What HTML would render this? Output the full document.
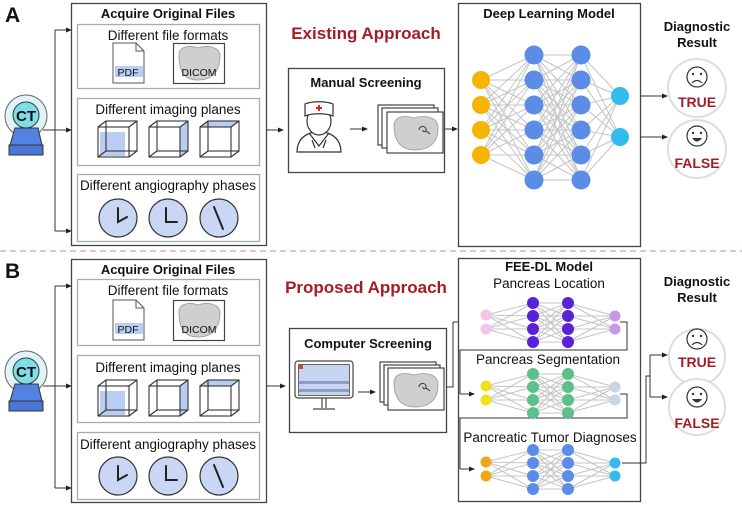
<!DOCTYPE html>
<html><head><meta charset="utf-8"><style>
html,body{margin:0;padding:0;background:#fff}
svg{display:block}
text{font-family:"Liberation Sans",Arial,sans-serif;fill:#111}
.b{font-weight:bold}
</style></head><body>
<svg id="s" width="742" height="506" viewBox="0 0 742 506" xmlns="http://www.w3.org/2000/svg">
<defs>
<marker id="ar" markerWidth="6" markerHeight="6" refX="5" refY="3" orient="auto" markerUnits="userSpaceOnUse"><path d="M0,0.5 L6,3 L0,5.5z" fill="#222"/></marker>
</defs>
<rect width="742" height="506" fill="#fff"/>
<line x1="0" y1="251" x2="742" y2="251" stroke="#d9a0a8" stroke-width="1.3" stroke-dasharray="6,4"/>

<!-- LEFT PANEL A -->
<g id="leftA">
<text x="5" y="22" class="b" font-size="21">A</text>
<!-- CT -->
<circle cx="26" cy="116" r="21" fill="#dff4f6" stroke="#666" stroke-width="1"/>
<circle cx="26" cy="115" r="13" fill="#7fdde8" stroke="#333" stroke-width="1"/>
<text x="26" y="121" class="b" font-size="15" text-anchor="middle">CT</text>
<path d="M15,128 H38 L42,145 H10 Z" fill="#5581e0" stroke="#333" stroke-width="1"/>
<rect x="9" y="145" width="34" height="10" fill="#4a76d8" stroke="#333" stroke-width="1"/>
<!-- connectors -->
<path d="M43,130 H55 M55,30 V231" stroke="#333" fill="none"/>
<line x1="55" y1="30" x2="71" y2="30" stroke="#333" marker-end="url(#ar)"/>
<line x1="55" y1="130" x2="71" y2="130" stroke="#333" marker-end="url(#ar)"/>
<line x1="55" y1="231" x2="71" y2="231" stroke="#333" marker-end="url(#ar)"/>
<!-- acquire box -->
<rect x="71.5" y="3.5" width="195" height="242" fill="#fff" stroke="#444" stroke-width="1.3"/>
<text x="168" y="18" class="b" font-size="13" text-anchor="middle">Acquire Original Files</text>
<rect x="77.5" y="24.5" width="182" height="64" fill="#fff" stroke="#aaa" stroke-width="1.3"/>
<text x="168" y="40" font-size="13.5" text-anchor="middle">Different file formats</text>
<path d="M113,43 H136 L144,51 V83 H113 Z" fill="#fff" stroke="#555"/>
<path d="M136,43 V51 H144" fill="none" stroke="#555"/>
<rect x="115" y="66" width="28" height="11" fill="#b9cdf2"/>
<text x="128" y="76" font-size="10.5" text-anchor="middle" fill="#223">PDF</text>
<rect x="173.5" y="43.5" width="51" height="40" fill="#fff" stroke="#444" stroke-width="1.2"/>
<path d="M179,56 C178,46 190,45 198,48 C206,45 220,46 220,56 C220,68 215,80 198,80 C182,80 179,68 179,56 Z" fill="#cfcfcf" stroke="#999" stroke-width="0.8"/>
<text x="199" y="76" font-size="10.5" text-anchor="middle" fill="#222">DICOM</text>

<rect x="77.5" y="98.5" width="182" height="67" fill="#fff" stroke="#aaa" stroke-width="1.3"/>
<text x="168" y="114" font-size="13.5" text-anchor="middle">Different imaging planes</text>
<!-- cubes -->
<g fill="none" stroke="#333" stroke-width="1.1">
<rect x="100" y="132" width="25" height="24" fill="#b9cdf2" stroke="none"/>
<rect x="98" y="127" width="31" height="30"/><rect x="106" y="121" width="31" height="30"/>
<path d="M98,127 L106,121 M129,127 L137,121 M129,157 L137,151 M98,157 L106,151"/>
<path d="M180,127 L188,121 V151 L180,157 Z" fill="#b9cdf2" stroke="none"/>
<rect x="149" y="127" width="31" height="30"/><rect x="157" y="121" width="31" height="30"/>
<path d="M149,127 L157,121 M180,127 L188,121 M180,157 L188,151 M149,157 L157,151"/>
<path d="M200,127 L208,121 H239 L231,127 Z" fill="#b9cdf2" stroke="none"/>
<rect x="200" y="127" width="31" height="30"/><rect x="208" y="121" width="31" height="30"/>
<path d="M200,127 L208,121 M231,127 L239,121 M231,157 L239,151 M200,157 L208,151"/>
</g>
<rect x="77.5" y="174.5" width="182" height="67" fill="#fff" stroke="#aaa" stroke-width="1.3"/>
<text x="168" y="190" font-size="13.5" text-anchor="middle">Different angiography phases</text>
<g stroke="#333" stroke-width="1.2" fill="#c9d7f4">
<circle cx="118" cy="218" r="19"/><circle cx="168" cy="218" r="19"/><circle cx="219" cy="218" r="19"/>
</g>
<g stroke="#222" stroke-width="2" fill="none" stroke-linecap="round">
<path d="M118,208 V222 L127,217"/>
<path d="M166,208 V222 H177"/>
<path d="M214,207 L223,229"/>
</g>
<line x1="266" y1="130" x2="283" y2="130" stroke="#333" marker-end="url(#ar)"/>
</g>

<!-- LEFT PANEL B (copy shifted) -->
<g transform="translate(0,256)">
<rect x="0" y="0" width="30" height="28" fill="#fff"/>
<text x="5" y="22" class="b" font-size="21">B</text>
<circle cx="26" cy="116" r="21" fill="#dff4f6" stroke="#666" stroke-width="1"/>
<circle cx="26" cy="115" r="13" fill="#7fdde8" stroke="#333" stroke-width="1"/>
<text x="26" y="121" class="b" font-size="15" text-anchor="middle">CT</text>
<path d="M15,128 H38 L42,145 H10 Z" fill="#5581e0" stroke="#333" stroke-width="1"/>
<rect x="9" y="145" width="34" height="10" fill="#4a76d8" stroke="#333" stroke-width="1"/>
<path d="M43,130 H55 M55,30 V232" stroke="#333" fill="none"/>
<line x1="55" y1="30" x2="71" y2="30" stroke="#333" marker-end="url(#ar)"/>
<line x1="55" y1="130" x2="71" y2="130" stroke="#333" marker-end="url(#ar)"/>
<line x1="55" y1="232" x2="71" y2="232" stroke="#333" marker-end="url(#ar)"/>
<rect x="71.5" y="3.5" width="195" height="243" fill="#fff" stroke="#444" stroke-width="1.3"/>
<text x="168" y="18" class="b" font-size="13" text-anchor="middle">Acquire Original Files</text>
<rect x="77.5" y="23.5" width="182" height="66" fill="#fff" stroke="#aaa" stroke-width="1.3"/>
<text x="168" y="39" font-size="13.5" text-anchor="middle">Different file formats</text>
<path d="M113,44 H136 L144,52 V84 H113 Z" fill="#fff" stroke="#555"/>
<path d="M136,44 V52 H144" fill="none" stroke="#555"/>
<rect x="115" y="67" width="28" height="11" fill="#b9cdf2"/>
<text x="128" y="77" font-size="10.5" text-anchor="middle" fill="#223">PDF</text>
<rect x="173.5" y="44.5" width="51" height="40" fill="#fff" stroke="#444" stroke-width="1.2"/>
<path d="M179,57 C178,47 190,46 198,49 C206,46 220,47 220,57 C220,69 215,81 198,81 C182,81 179,69 179,57 Z" fill="#cfcfcf" stroke="#999" stroke-width="0.8"/>
<text x="199" y="77" font-size="10.5" text-anchor="middle" fill="#222">DICOM</text>
<rect x="77.5" y="99.5" width="182" height="67" fill="#fff" stroke="#aaa" stroke-width="1.3"/>
<text x="168" y="116" font-size="13.5" text-anchor="middle">Different imaging planes</text>
<g fill="none" stroke="#333" stroke-width="1.1" transform="translate(0,3)">
<rect x="100" y="132" width="25" height="24" fill="#b9cdf2" stroke="none"/>
<rect x="98" y="127" width="31" height="30"/><rect x="106" y="121" width="31" height="30"/>
<path d="M98,127 L106,121 M129,127 L137,121 M129,157 L137,151 M98,157 L106,151"/>
<path d="M180,127 L188,121 V151 L180,157 Z" fill="#b9cdf2" stroke="none"/>
<rect x="149" y="127" width="31" height="30"/><rect x="157" y="121" width="31" height="30"/>
<path d="M149,127 L157,121 M180,127 L188,121 M180,157 L188,151 M149,157 L157,151"/>
<path d="M200,127 L208,121 H239 L231,127 Z" fill="#b9cdf2" stroke="none"/>
<rect x="200" y="127" width="31" height="30"/><rect x="208" y="121" width="31" height="30"/>
<path d="M200,127 L208,121 M231,127 L239,121 M231,157 L239,151 M200,157 L208,151"/>
</g>
<rect x="77.5" y="176.5" width="182" height="67" fill="#fff" stroke="#aaa" stroke-width="1.3"/>
<text x="168" y="193" font-size="13.5" text-anchor="middle">Different angiography phases</text>
<g transform="translate(0,2)">
<g stroke="#333" stroke-width="1.2" fill="#c9d7f4">
<circle cx="118" cy="218" r="19"/><circle cx="168" cy="218" r="19"/><circle cx="219" cy="218" r="19"/>
</g>
<g stroke="#222" stroke-width="2" fill="none" stroke-linecap="round">
<path d="M118,208 V222 L127,217"/>
<path d="M166,208 V222 H177"/>
<path d="M214,207 L223,229"/>
</g></g>
<line x1="266" y1="130" x2="285" y2="130" stroke="#333" marker-end="url(#ar)"/>
</g>

<!-- Middle A -->
<text x="366" y="39" class="b" font-size="17" text-anchor="middle" fill="#a51d24" style="fill:#a51d24">Existing Approach</text>
<rect x="288.5" y="68.5" width="156" height="104" fill="#fff" stroke="#444" stroke-width="1.3"/>
<text x="366" y="87" class="b" font-size="13" text-anchor="middle">Manual Screening</text>
<!-- doctor -->
<g stroke="#333" stroke-width="1.2" fill="#fff">
<path d="M297,152 C297,140 304,133 319,131 C334,133 341,140 341,152 Z"/>
<path d="M309,133 L319,146 L329,133 M312,140 L315,148 M326,140 L323,148" fill="none"/>
<ellipse cx="319" cy="121" rx="12" ry="14"/>
<path d="M305,104 C312,101 326,101 333,104 V116 C326,113 312,113 305,116 Z"/>
</g>
<path d="M316,108 H322 M319,105 V111" stroke="#e02020" stroke-width="2"/>
<line x1="350" y1="129" x2="367" y2="129" stroke="#333" marker-end="url(#ar)"/>
<g stroke="#333" stroke-width="1.1">
<rect x="378" y="105" width="56" height="40" fill="#fff"/>
<rect x="382" y="108" width="56" height="40" fill="#fff"/>
<rect x="387" y="112" width="56" height="41" fill="#fff"/>
</g>
<path d="M394,126 C394,116 404,115 414,118 C424,115 438,116 438,128 C438,142 430,150 415,150 C400,150 394,140 394,126 Z" fill="#cfcfcf" stroke="#999" stroke-width="0.8"/>
<path d="M419,130 C419,126 425,125 426,129 C427,133 422,132 423,130 M426,131 L430,134" stroke="#333" fill="none" stroke-width="1"/>
<line x1="445" y1="129" x2="457" y2="129" stroke="#333" marker-end="url(#ar)"/>

<!-- DL box A -->
<rect x="458.5" y="3.5" width="182" height="243" fill="#fff" stroke="#444" stroke-width="1.3"/>
<text x="549" y="18" class="b" font-size="13" text-anchor="middle">Deep Learning Model</text>
<g id="netA"></g>

<!-- results A -->
<line x1="640" y1="96" x2="667" y2="96" stroke="#333" marker-end="url(#ar)"/>
<line x1="640" y1="137" x2="667" y2="137" stroke="#333" marker-end="url(#ar)"/>
<text x="697" y="31" class="b" font-size="13" text-anchor="middle">Diagnostic</text>
<text x="697" y="47" class="b" font-size="13" text-anchor="middle">Result</text>

<!-- Middle B -->
<text x="366" y="293" class="b" font-size="17" text-anchor="middle" style="fill:#a51d24">Proposed Approach</text>
<rect x="289.5" y="328.5" width="157" height="104" fill="#fff" stroke="#444" stroke-width="1.3"/>
<text x="368" y="348" class="b" font-size="13" text-anchor="middle">Computer Screening</text>
<rect x="295" y="361" width="58" height="37" rx="3" fill="#fff" stroke="#444" stroke-width="1.2"/>
<rect x="298.5" y="364.5" width="51" height="31" fill="#c7d4f2" stroke="#666"/>
<rect x="299" y="381" width="50" height="3" fill="#8fa0c8"/>
<rect x="299" y="389" width="50" height="3" fill="#8fa0c8"/>
<rect x="299" y="365" width="4" height="4" fill="#c43"/>
<path d="M322,398 V408 M326,398 V408 M313,409 H335" stroke="#444" stroke-width="1.2"/>
<line x1="358" y1="392" x2="375" y2="392" stroke="#333" marker-end="url(#ar)"/>
<g stroke="#333" stroke-width="1.1">
<rect x="380" y="362" width="56" height="40" fill="#fff"/>
<rect x="384" y="365" width="56" height="40" fill="#fff"/>
<rect x="388" y="368" width="56" height="42" fill="#fff"/>
</g>
<path d="M394,383 C394,373 404,372 414,375 C424,372 438,373 438,385 C438,399 430,407 415,407 C400,407 394,397 394,383 Z" fill="#cfcfcf" stroke="#999" stroke-width="0.8"/>
<path d="M419,387 C419,383 425,382 426,386 C427,390 422,389 423,387 M426,388 L430,391" stroke="#333" fill="none" stroke-width="1"/>
<path d="M446,387 H453 V322" stroke="#333" fill="none"/>
<line x1="453" y1="322" x2="474" y2="322" stroke="#333" marker-end="url(#ar)"/>

<!-- FEE-DL box -->
<rect x="458.5" y="258.5" width="182" height="243" fill="#fff" stroke="#444" stroke-width="1.3"/>
<text x="549" y="271" class="b" font-size="13" text-anchor="middle">FEE-DL Model</text>
<text x="549" y="288" font-size="13.5" text-anchor="middle">Pancreas Location</text>
<text x="548" y="364" font-size="13.5" text-anchor="middle">Pancreas Segmentation</text>
<text x="550" y="442" font-size="13.5" text-anchor="middle">Pancreatic Tumor Diagnoses</text>
<path d="M620,322 H627 V350 H460 V394" stroke="#333" fill="none"/>
<line x1="460" y1="394" x2="474" y2="394" stroke="#333" marker-end="url(#ar)"/>
<path d="M620,394 H627 V418 H460 V469" stroke="#333" fill="none"/>
<line x1="460" y1="469" x2="474" y2="469" stroke="#333" marker-end="url(#ar)"/>
<g id="netB"></g>
<path d="M622,463 H646 V376 H650 M650,355 V397" stroke="#333" fill="none"/>
<line x1="650" y1="355" x2="667" y2="355" stroke="#333" marker-end="url(#ar)"/>
<line x1="650" y1="397" x2="667" y2="397" stroke="#333" marker-end="url(#ar)"/>
<text x="697" y="286" class="b" font-size="13" text-anchor="middle">Diagnostic</text>
<text x="697" y="302" class="b" font-size="13" text-anchor="middle">Result</text>

<!-- result circles -->
<g id="res"></g>
<g>
<circle cx="697" cy="88" r="29" fill="#fff" stroke="#ddd" stroke-width="2"/>
<circle cx="697" cy="77" r="10" fill="#fff" stroke="#333" stroke-width="1.2"/>
<circle cx="693" cy="74" r="1.2" fill="#333"/><circle cx="701" cy="74" r="1.2" fill="#333"/>
<path d="M692,83 Q697,78 702,83" stroke="#333" fill="none" stroke-width="1.2"/>
<text x="697" y="107" class="b" font-size="14" text-anchor="middle" style="fill:#a51d24">TRUE</text>
<circle cx="697" cy="149" r="29" fill="#fff" stroke="#ddd" stroke-width="2"/>
<circle cx="697" cy="136" r="10" fill="#fff" stroke="#333" stroke-width="1.2"/>
<circle cx="693" cy="133" r="1.2" fill="#333"/><circle cx="701" cy="133" r="1.2" fill="#333"/>
<path d="M692,138 Q697,145 702,138 Z" fill="#333"/>
<text x="697" y="168" class="b" font-size="14" text-anchor="middle" style="fill:#a51d24">FALSE</text>

<circle cx="697" cy="357" r="28" fill="#fff" stroke="#ddd" stroke-width="2"/>
<circle cx="697" cy="339" r="10" fill="#fff" stroke="#333" stroke-width="1.2"/>
<circle cx="693" cy="336" r="1.2" fill="#333"/><circle cx="701" cy="336" r="1.2" fill="#333"/>
<path d="M692,345 Q697,340 702,345" stroke="#333" fill="none" stroke-width="1.2"/>
<text x="697" y="367" class="b" font-size="14" text-anchor="middle" style="fill:#a51d24">TRUE</text>
<circle cx="697" cy="407" r="28" fill="#fff" stroke="#ddd" stroke-width="2"/>
<circle cx="697" cy="397" r="10" fill="#fff" stroke="#333" stroke-width="1.2"/>
<circle cx="693" cy="394" r="1.2" fill="#333"/><circle cx="701" cy="394" r="1.2" fill="#333"/>
<path d="M692,399 Q697,406 702,399 Z" fill="#333"/>
<text x="697" y="428" class="b" font-size="14" text-anchor="middle" style="fill:#a51d24">FALSE</text>
</g>
</svg>
<script>
var NS="http://www.w3.org/2000/svg";
function net(g,layers){
  var el=document.getElementById(g);
  for(var i=0;i<layers.length-1;i++){
    var a=layers[i],b=layers[i+1];
    a.ys.forEach(function(y1){b.ys.forEach(function(y2){
      var l=document.createElementNS(NS,"line");
      l.setAttribute("x1",a.x);l.setAttribute("y1",y1);l.setAttribute("x2",b.x);l.setAttribute("y2",y2);
      l.setAttribute("stroke","#c4c4c4");l.setAttribute("stroke-width","1");el.appendChild(l);});});
  }
  layers.forEach(function(L){L.ys.forEach(function(y){
    var c=document.createElementNS(NS,"circle");
    c.setAttribute("cx",L.x);c.setAttribute("cy",y);c.setAttribute("r",L.r);c.setAttribute("fill",L.c);el.appendChild(c);});});
}
var h=[55,80,105,130,155,180];
net("netA",[{x:481,ys:[80,105,130,155],r:9,c:"#f4b400"},{x:534,ys:h,r:9.5,c:"#5b8de8"},{x:581,ys:h,r:9.5,c:"#5b8de8"},{x:620,ys:[96,137],r:9,c:"#33bbf0"}]);
function sub(y0,ci,ch,co){
  var hs=[y0-19,y0-6,y0+7,y0+20];
  net("netB",[{x:486,ys:[y0-7,y0+7],r:5.5,c:ci},{x:533,ys:hs,r:6,c:ch},{x:568,ys:hs,r:6,c:ch},{x:615,ys:[y0-6,y0+7],r:5.5,c:co}]);
}
sub(322,"#f2c6ea","#5a22d8","#c49ae6");
sub(393,"#f3e01c","#5cc08a","#c8d6e2");
sub(469,"#f0a81a","#5b8de8","#33bbf0");
</script>
</body></html>
